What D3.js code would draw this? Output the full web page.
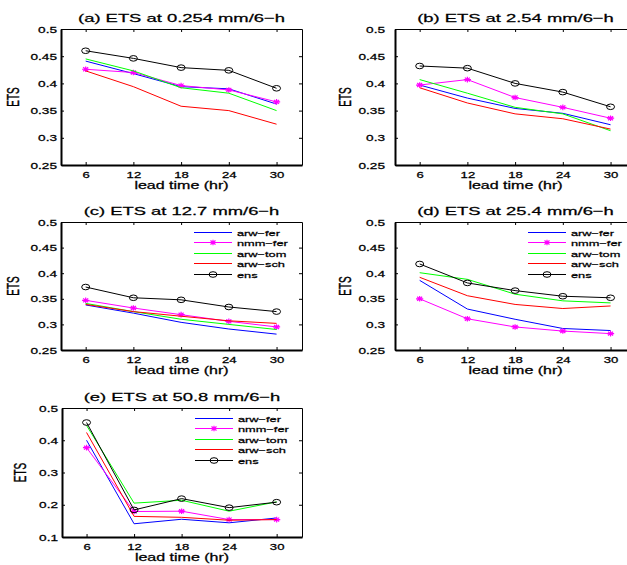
<!DOCTYPE html>
<html>
<head>
<meta charset="utf-8">
<script src="https://cdn.jsdelivr.net/npm/d3@7"></script>
<style>
    body { margin: 0; background: #fff; }
    text { font-family: "Liberation Sans", Arial, sans-serif; fill: #000; stroke: #000; stroke-width: 0.25px; }
</style>
</head>
<body>
<script>

// lead times on the x axis (hr)
const leadTimes = [6, 12, 18, 24, 30];

const seriesNames = ["arw\u2212fer", "nmm\u2212fer", "arw\u2212tom", "arw\u2212sch", "ens"];
const seriesColours = ["#0000ff", "#ff00ff", "#00ff00", "#ff0000", "#000000"];
const seriesMarkers = ["none", "star", "none", "none", "circle"];

const panelTitles = [
    "(a) ETS at 0.254 mm/6\u2212h",
    "(b) ETS at 2.54 mm/6\u2212h",
    "(c) ETS at 12.7 mm/6\u2212h",
    "(d) ETS at 25.4 mm/6\u2212h",
    "(e) ETS at 50.8 mm/6\u2212h"
];

// ETS per threshold, rows in seriesNames order
const etsA = [
    [0.441, 0.418, 0.394, 0.390, 0.362],
    [0.426, 0.420, 0.396, 0.388, 0.366],
    [0.445, 0.423, 0.392, 0.382, 0.350],
    [0.423, 0.394, 0.358, 0.350, 0.325],
    [0.460, 0.446, 0.429, 0.424, 0.391]
];
const etsB = [
    [0.397, 0.373, 0.354, 0.345, 0.324],
    [0.397, 0.407, 0.374, 0.356, 0.336],
    [0.407, 0.382, 0.356, 0.344, 0.313],
    [0.392, 0.364, 0.344, 0.335, 0.316],
    [0.432, 0.428, 0.400, 0.384, 0.357]
];
const etsC = [
    [0.338, 0.322, 0.304, 0.291, 0.281],
    [0.347, 0.332, 0.319, 0.306, 0.295],
    [0.341, 0.325, 0.310, 0.300, 0.290],
    [0.339, 0.325, 0.316, 0.307, 0.302],
    [0.373, 0.352, 0.348, 0.334, 0.325]
];
const etsD = [
    [0.386, 0.330, 0.310, 0.292, 0.288],
    [0.350, 0.311, 0.295, 0.287, 0.282],
    [0.401, 0.388, 0.359, 0.346, 0.342],
    [0.392, 0.356, 0.339, 0.331, 0.336],
    [0.418, 0.381, 0.366, 0.355, 0.352]
];
const etsE = [
    [0.400, 0.141, 0.155, 0.144, 0.159],
    [0.377, 0.179, 0.180, 0.154, 0.154],
    [0.446, 0.205, 0.214, 0.180, 0.209],
    [0.424, 0.164, 0.161, 0.152, 0.154],
    [0.455, 0.184, 0.219, 0.191, 0.208]
];

const yTicksSmall = [0.25, 0.3, 0.35, 0.4, 0.45, 0.5];
const yTicksLarge = [0.1, 0.2, 0.3, 0.4, 0.5];

const panelData = [etsA, etsB, etsC, etsD, etsE];
const panelYTicks = [yTicksSmall, yTicksSmall, yTicksSmall, yTicksSmall, yTicksLarge];
const panelLegend = [false, false, true, true, true];

// page layout of each axes box (the picture was stretched sideways, so is the text)
const layout = [
    { x0: 61, x1: 302, y0: 29, y1: 165, yl: 15.5, pad: 4 },
    { x0: 395, x1: 636, y0: 29, y1: 165, yl: 347, pad: 10 },
    { x0: 61, x1: 302, y0: 222, y1: 350, yl: 15.5, pad: 4 },
    { x0: 395, x1: 636, y0: 222, y1: 350, yl: 347, pad: 10 },
    { x0: 62, x1: 302, y0: 408, y1: 537, yl: 22, pad: 4 }
];
const stretch = 1.6;

var svg = d3.select("body").append("svg")
    .attr("width", 627)
    .attr("height", 565);

svg.append("rect").attr("width", 627).attr("height", 565).attr("fill", "#fff");

function stext(g, x, y, str, size, anchor) {
    return g.append("text")
        .attr("transform", `translate(${x},${y}) scale(${stretch},1)`)
        .style("font-size", size + "px")
        .style("text-anchor", anchor)
        .text(str);
}

function drawMarker(g, type, x, y, colour) {
    if (type == "circle") {
        g.append("ellipse")
            .attr("cx", x).attr("cy", y)
            .attr("rx", 4).attr("ry", 2.8)
            .attr("fill", "none")
            .attr("stroke", colour)
            .attr("stroke-width", 1);
    } else if (type == "star") {
        var rx = 3.6, ry = 2.8, k = 0.7;
        g.append("path")
            .attr("d", `M${x - rx},${y}L${x + rx},${y}M${x},${y - ry}L${x},${y + ry}` +
                `M${x - rx * k},${y - ry * k}L${x + rx * k},${y + ry * k}` +
                `M${x - rx * k},${y + ry * k}L${x + rx * k},${y - ry * k}`)
            .attr("stroke", colour)
            .attr("stroke-width", 1.2)
            .attr("fill", "none");
    }
}

layout.forEach((L, p) => {

    var g = svg.append("g");
    var yt = panelYTicks[p];

    var x = d3.scaleLinear()
        .domain([2.9, 33.2])
        .range([L.x0, L.x1]);

    var y = d3.scaleLinear()
        .domain([yt[0], yt[yt.length - 1]])
        .range([L.y1, L.y0]);

    // top and right: thin box with inward ticks, no labels
    g.append("g")
        .attr("transform", `translate(0,${L.y0})`)
        .call(d3.axisTop(x).tickValues(leadTimes).tickSizeInner(-3).tickSizeOuter(0).tickFormat(""))
        .call(a => a.selectAll("path, line").attr("stroke", "#000").attr("stroke-width", 1));

    g.append("g")
        .attr("transform", `translate(${L.x1},0)`)
        .call(d3.axisRight(y).tickValues(yt).tickSizeInner(-3).tickSizeOuter(0).tickFormat(""))
        .call(a => a.selectAll("path, line").attr("stroke", "#000").attr("stroke-width", 1));

    // the lines
    var line = d3.line()
        .x((d, i) => x(leadTimes[i]))
        .y(d => y(d));

    panelData[p].forEach((vals, s) => {
        g.append("path")
            .attr("d", line(vals))
            .attr("fill", "none")
            .attr("stroke", seriesColours[s])
            .attr("stroke-width", 1);
        vals.forEach((v, i) => drawMarker(g, seriesMarkers[s], x(leadTimes[i]), y(v), seriesColours[s]));
    });

    // bottom and left: thick, labelled
    g.append("g")
        .attr("transform", `translate(0,${L.y1})`)
        .call(d3.axisBottom(x).tickValues(leadTimes).tickSizeInner(-3).tickSizeOuter(0))
        .call(a => a.select(".domain").attr("stroke", "#000").attr("stroke-width", 2))
        .call(a => a.selectAll(".tick line").attr("stroke", "#000"))
        .call(a => a.selectAll("text")
            .attr("y", null).attr("dy", null)
            .attr("transform", `translate(0,12.5) scale(${stretch},1)`)
            .attr("font-size", null).attr("font-family", null).attr("fill", null)
            .style("font-size", "8.2px"));

    g.append("g")
        .attr("transform", `translate(${L.x0},0)`)
        .call(d3.axisLeft(y).tickValues(yt).tickSizeInner(-3).tickSizeOuter(0).tickFormat(d => String(d)))
        .call(a => a.select(".domain").attr("stroke", "#000").attr("stroke-width", 2))
        .call(a => a.selectAll(".tick line").attr("stroke", "#000"))
        .call(a => a.selectAll("text")
            .attr("x", null).attr("dy", null)
            .attr("transform", `translate(${-L.pad},3) scale(${stretch},1)`)
            .attr("font-size", null).attr("font-family", null).attr("fill", null)
            .style("font-size", "8.5px"));

    // title and axis labels
    stext(g, (L.x0 + L.x1) / 2, L.y0 - 7.5, panelTitles[p], 11.5, "middle");
    stext(g, (L.x0 + L.x1) / 2, L.y1 + 23.5, "lead time (hr)", 10, "middle");

    g.append("text")
        .attr("transform", `translate(${L.yl + 3.5},${(L.y0 + L.y1) / 2}) scale(${stretch},1) rotate(-90)`)
        .style("font-size", "10px")
        .style("text-anchor", "middle")
        .text("ETS");

    // legend, no box
    if (panelLegend[p]) {
        seriesNames.forEach((name, s) => {
            var ly = Math.round(L.y0 + 9.5 + s * 10.5) + 0.5;
            var lx = L.x0 + 133;
            g.append("line")
                .attr("x1", lx).attr("x2", lx + 38)
                .attr("y1", ly).attr("y2", ly)
                .attr("stroke", seriesColours[s])
                .attr("stroke-width", 1);
            drawMarker(g, seriesMarkers[s], lx + 19, ly, seriesColours[s]);
            stext(g, lx + 43, ly + 3, name, 8, "start");
        });
    }
});

</script>
</body>
</html>
